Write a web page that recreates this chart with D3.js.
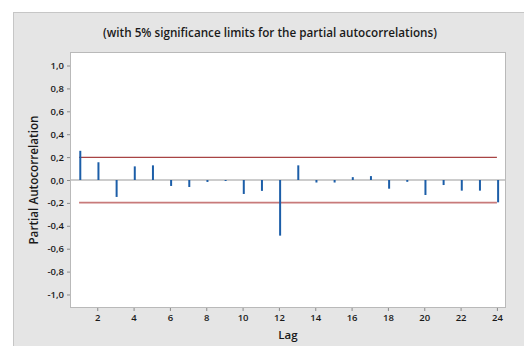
<!DOCTYPE html>
<html>
<head>
<meta charset="utf-8">
<script src="https://cdn.jsdelivr.net/npm/d3@7"></script>
<style>
  html, body { margin: 0; padding: 0; background: #ffffff; }
  svg { display: block; }
  text { font-family: "Open Sans", "Noto Sans", sans-serif; fill: #1a1a1a; }
</style>
</head>
<body>
<svg id="chart" width="524" height="346"></svg>
<script>
// Partial autocorrelation function, lags 1..24
const lags = d3.range(1, 25);
const pacf = [0.255, 0.155, -0.148, 0.119, 0.128, -0.052, -0.061, -0.017, -0.009, -0.122,
              -0.095, -0.486, 0.128, -0.022, -0.022, 0.025, 0.034, -0.076, -0.016, -0.131,
              -0.044, -0.093, -0.093, -0.195];
const significanceLimit = 0.198;
const yTickValues = [-1.0, -0.8, -0.6, -0.4, -0.2, 0.0, 0.2, 0.4, 0.6, 0.8, 1.0];
const xTickValues = [2, 4, 6, 8, 10, 12, 14, 16, 18, 20, 22, 24];
const titleText = "(with 5% significance limits for the partial autocorrelations)";
const xLabel = "Lag";
const yLabel = "Partial Autocorrelation";

const svg = d3.select("#chart");
const W = 524, H = 346;
const plot = { left: 70, right: 506, top: 52, bottom: 308 };

// Outer panel
svg.append("rect")
  .attr("x", 13.5).attr("y", 12.5)
  .attr("width", W).attr("height", H)
  .attr("fill", "#e5e5e5").attr("stroke", "#c6c6c6").attr("stroke-width", 1);

// Data region
svg.append("rect")
  .attr("x", plot.left + 0.5).attr("y", plot.top + 0.5)
  .attr("width", plot.right - plot.left - 1).attr("height", plot.bottom - plot.top - 1)
  .attr("fill", "#ffffff").attr("stroke", "#b9b9b9").attr("stroke-width", 1);

const x = d3.scaleLinear().domain([0.5, 24.5]).range([plot.left, plot.right]);
const y = d3.scaleLinear().domain([-1.118, 1.118]).range([plot.bottom, plot.top]);

// Axes
const yAxis = d3.axisLeft(y).tickValues(yTickValues).tickSize(3).tickPadding(3)
  .tickFormat(d => d3.format(".1f")(d).replace(".", ",").replace("−", "-"));
const gy = svg.append("g").attr("transform", `translate(${plot.left},0)`).call(yAxis);
gy.select(".domain").remove();
gy.selectAll(".tick line").attr("stroke", "#8a8a8a");
gy.selectAll(".tick text").attr("font-size", 9.5).attr("font-weight", 600).attr("fill", "#1a1a1a");

const xAxis = d3.axisBottom(x).tickValues(xTickValues).tickSize(3).tickPadding(3)
  .tickFormat(d3.format("d"));
const gx = svg.append("g").attr("transform", `translate(0,${plot.bottom})`).call(xAxis);
gx.select(".domain").remove();
gx.selectAll(".tick line").attr("stroke", "#8a8a8a");
gx.selectAll(".tick text").attr("font-size", 9.5).attr("font-weight", 600).attr("fill", "#1a1a1a");

// Zero reference line
svg.append("line")
  .attr("x1", plot.left + 1).attr("x2", plot.right - 1)
  .attr("y1", y(0)).attr("y2", y(0))
  .attr("stroke", "#9a9a9a").attr("stroke-width", 1.2);

// Significance limits
svg.append("line")
  .attr("x1", x(1)).attr("x2", x(24))
  .attr("y1", y(significanceLimit)).attr("y2", y(significanceLimit))
  .attr("stroke", "#a84444").attr("stroke-width", 1.4);
svg.append("line")
  .attr("x1", x(1)).attr("x2", x(24))
  .attr("y1", y(-significanceLimit)).attr("y2", y(-significanceLimit))
  .attr("stroke", "#c87a7a").attr("stroke-width", 1.6);

// PACF spikes
svg.append("g").selectAll("line")
  .data(lags.map((l, i) => ({ lag: l, v: pacf[i] })))
  .join("line")
  .attr("x1", d => x(d.lag) + 1.2).attr("x2", d => x(d.lag) + 1.2)
  .attr("y1", y(0)).attr("y2", d => y(d.v))
  .attr("stroke", "#1c5ea8").attr("stroke-width", 2);

// Titles
svg.append("text")
  .attr("x", 270).attr("y", 37)
  .attr("text-anchor", "middle").attr("font-size", 11.7).attr("font-weight", 600)
  .text(titleText);

svg.append("text")
  .attr("x", (plot.left + plot.right) / 2).attr("y", 339)
  .attr("text-anchor", "middle").attr("font-size", 11.5).attr("font-weight", 600)
  .text(xLabel);

svg.append("text")
  .attr("transform", `translate(38,${(plot.top + plot.bottom) / 2}) rotate(-90)`)
  .attr("text-anchor", "middle").attr("font-size", 11.7).attr("font-weight", 600)
  .text(yLabel);
</script>
</body>
</html>
